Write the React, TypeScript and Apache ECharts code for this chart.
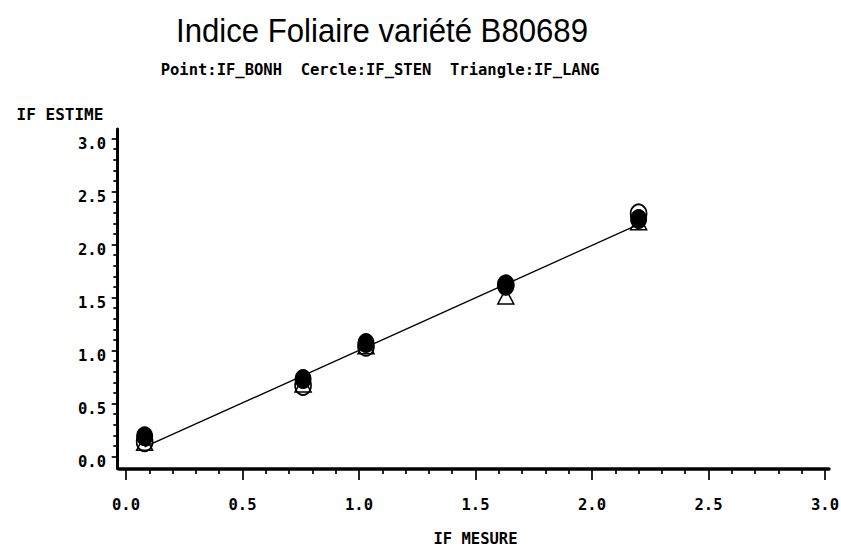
import React, { useEffect, useRef } from 'react';
import * as echarts from 'echarts';

const titleText = 'Indice Foliaire variété B80689';
const subtitleText = 'Point:IF_BONH  Cercle:IF_STEN  Triangle:IF_LANG';
const xAxisName = 'IF MESURE';
const yAxisName = 'IF ESTIME';
const xTickLabels = ['0.0', '0.5', '1.0', '1.5', '2.0', '2.5', '3.0'];
const yTickLabels = ['0.0', '0.5', '1.0', '1.5', '2.0', '2.5', '3.0'];

const mesure = [0.08, 0.76, 1.03, 1.63, 2.2];
const ifBonh = [0.19, 0.73, 1.07, 1.61, 2.24];
const ifSten = [0.14, 0.67, 1.04, 1.62, 2.29];
const ifLang = [0.13, 0.68, 1.04, 1.51, 2.21];
const fitX = [0.08, 2.2];
const fitY = [0.09, 2.19];

const MONO = 'DejaVu Sans Mono';

export default function App() {
  const ref = useRef<HTMLDivElement>(null);

  useEffect(() => {
    if (!ref.current) return;
    const chart = echarts.init(ref.current, undefined, { renderer: 'svg' });
    const zip = (xs: number[], ys: number[]) => xs.map((x, i) => [x, ys[i]]);
    const tickFmt = (labels: string[]) => (v: number) => labels[Math.round(v / 0.5)] ?? '';

    const labelStyle = {
      fontFamily: MONO,
      fontWeight: 'bold' as const,
      fontSize: 15.5,
      color: '#000',
    };

    chart.setOption({
      animation: false,
      backgroundColor: '#fff',
      graphic: [
        {
          type: 'text',
          x: 382,
          y: 30,
          scaleX: 0.916,
          style: {
            text: titleText,
            fontFamily: 'Liberation Sans',
            fontSize: 34,
            fill: '#000',
            align: 'center',
            verticalAlign: 'middle',
          },
        },
        {
          type: 'text',
          x: 380,
          y: 69.6,
          style: {
            text: subtitleText,
            fontFamily: MONO,
            fontWeight: 'bold',
            fontSize: 15.5,
            fill: '#000',
            align: 'center',
            verticalAlign: 'middle',
          },
        },
      ],
      grid: [
        { left: 126, top: 138.5, width: 699, height: 318, outerBoundsMode: 'none' },
        { left: 119, top: 129, width: 710, height: 339.7, outerBoundsMode: 'none' },
      ],
      xAxis: [
        {
          gridIndex: 0,
          type: 'value',
          min: 0,
          max: 3,
          interval: 0.5,
          offset: 12.2,
          axisLine: { show: false, onZero: false },
          axisTick: { show: true, length: 11.3, lineStyle: { color: '#000', width: 1.7 } },
          minorTick: { show: true, splitNumber: 5, length: 5.3, lineStyle: { color: '#000', width: 1.7 } },
          splitLine: { show: false },
          minorSplitLine: { show: false },
          axisLabel: { ...labelStyle, margin: 28.5, lineHeight: 16, formatter: tickFmt(xTickLabels) },
          name: xAxisName,
          nameLocation: 'middle',
          nameGap: 64,
          nameTextStyle: { fontFamily: MONO, fontWeight: 'bold', fontSize: 15.5, lineHeight: 12, color: '#000' },
        },
        {
          gridIndex: 1,
          type: 'value',
          min: 0,
          max: 1,
          axisLine: { show: true, onZero: false, lineStyle: { color: '#000', width: 3.5 } },
          axisTick: { show: false },
          axisLabel: { show: false },
          splitLine: { show: false },
        },
      ],
      yAxis: [
        {
          gridIndex: 0,
          type: 'value',
          min: 0,
          max: 3,
          interval: 0.5,
          offset: 8.7,
          axisLine: { show: false, onZero: false },
          axisTick: { show: true, length: 5.6, lineStyle: { color: '#000', width: 1.7 } },
          minorTick: { show: true, splitNumber: 5, length: 4, lineStyle: { color: '#000', width: 1.7 } },
          splitLine: { show: false },
          minorSplitLine: { show: false },
          axisLabel: {
            ...labelStyle,
            margin: 11.3,
            lineHeight: 11,
            verticalAlign: 'top',
            formatter: tickFmt(yTickLabels),
          },
        },
        {
          gridIndex: 1,
          type: 'value',
          min: 0,
          max: 1,
          offset: 1.7,
          axisLine: { show: true, onZero: false, lineStyle: { color: '#000', width: 3 } },
          axisTick: { show: false },
          axisLabel: { show: false },
          splitLine: { show: false },
          name: yAxisName,
          nameLocation: 'end',
          nameGap: 6.8,
          nameTextStyle: {
            fontFamily: MONO,
            fontWeight: 'bold',
            fontSize: 16,
            lineHeight: 16,
            color: '#000',
            align: 'right',
            verticalAlign: 'bottom',
            padding: [0, 14, 0, 0],
          },
        },
      ],
      series: [
        {
          name: 'Ajustement',
          type: 'line',
          xAxisIndex: 0,
          yAxisIndex: 0,
          data: zip(fitX, fitY),
          symbol: 'none',
          lineStyle: { color: '#000', width: 1.3, opacity: 1 },
          silent: true,
        },
        {
          name: 'IF_LANG',
          type: 'scatter',
          xAxisIndex: 0,
          yAxisIndex: 0,
          data: zip(mesure, ifLang),
          symbol: 'triangle',
          symbolSize: [16, 15],
          itemStyle: { color: 'rgba(0,0,0,0)', borderColor: '#000', borderWidth: 1.5, opacity: 1 },
        },
        {
          name: 'IF_STEN',
          type: 'scatter',
          xAxisIndex: 0,
          yAxisIndex: 0,
          data: zip(mesure, ifSten),
          symbol: 'circle',
          symbolSize: [16, 19],
          itemStyle: { color: 'rgba(0,0,0,0)', borderColor: '#000', borderWidth: 1.8, opacity: 1 },
        },
        {
          name: 'IF_BONH',
          type: 'scatter',
          xAxisIndex: 0,
          yAxisIndex: 0,
          data: zip(mesure, ifBonh),
          symbol: 'circle',
          symbolSize: [17, 20],
          itemStyle: { color: '#000', opacity: 1 },
        },
      ],
    });
    return () => chart.dispose();
  }, []);

  return (
    <div
      ref={ref}
      style={{ position: 'fixed', left: 0, top: 0, width: 841, height: 549, background: '#fff' }}
    />
  );
}
